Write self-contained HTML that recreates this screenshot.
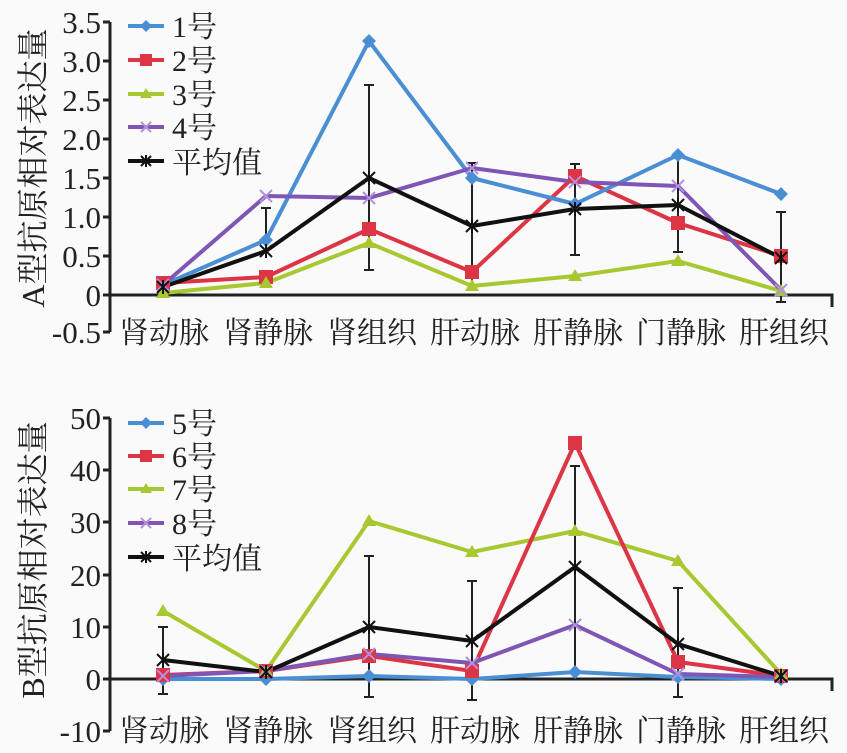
<!DOCTYPE html><html><head><meta charset="utf-8"><style>body{margin:0;background:#fafafa}svg{display:block}text{font-family:"Liberation Serif","Noto Serif CJK SC",serif;fill:#222}</style></head><body>
<svg width="847" height="753" viewBox="0 0 847 753">
<rect width="847" height="753" fill="#fafafa"/>
<g stroke="#222" stroke-width="3" fill="none">
<path d="M110 22V332M103 22H110M103 61H110M103 100H110M103 139H110M103 178H110M103 217H110M103 256H110M103 295H110M103 332H110M110 295H832V307"/>
<path d="M110 418V731M103 418H110M103 470H110M103 522H110M103 575H110M103 627H110M103 679H110M103 731H110M110 679H832V691"/>
</g>
<g font-size="31" text-anchor="end">
<text x="101" y="33">3.5</text><text x="101" y="72">3.0</text><text x="101" y="111">2.5</text><text x="101" y="150">2.0</text><text x="101" y="189">1.5</text><text x="101" y="228">1.0</text><text x="101" y="267">0.5</text><text x="101" y="306">0</text><text x="101" y="343">-0.5</text>
<text x="101" y="429">50</text><text x="101" y="481">40</text><text x="101" y="533">30</text><text x="101" y="586">20</text><text x="101" y="638">10</text><text x="101" y="690">0</text><text x="101" y="742">-10</text>
</g>
<g font-size="30" text-anchor="middle">
<text x="164" y="343">肾动脉</text><text x="268" y="343">肾静脉</text><text x="372" y="343">肾组织</text><text x="475" y="343">肝动脉</text><text x="578" y="343">肝静脉</text><text x="681" y="343">门静脉</text><text x="784" y="343">肝组织</text>
<text x="164" y="741">肾动脉</text><text x="268" y="741">肾静脉</text><text x="372" y="741">肾组织</text><text x="475" y="741">肝动脉</text><text x="578" y="741">肝静脉</text><text x="681" y="741">门静脉</text><text x="784" y="741">肝组织</text>
</g>
<text font-size="32" text-anchor="middle" transform="translate(44 168) rotate(-90)">A型抗原相对表达量</text>
<text font-size="32" text-anchor="middle" transform="translate(44 560) rotate(-90)">B型抗原相对表达量</text>
<g fill="none" stroke-width="4" stroke-linejoin="round">
<polyline stroke="#a8c832" points="163,293 266,283 369,243 472,286 575,276 678,261 781,291"/>
<polyline stroke="#dc3545" points="163,283 266,277 369,229 472,272 575,176 678,223 781,256"/>
<polyline stroke="#4a8fd4" points="163,285 266,240 369,41 472,178 575,204 678,155 781,194"/>
<polyline stroke="#7f55b5" points="163,285 266,196 369,198 472,168 575,182 678,186 781,290"/>
<polyline stroke="#111" points="163,287 266,251 369,178 472,226 575,209 678,205 781,258"/>
</g>
<g stroke="#222" stroke-width="2"><path d="M266 208V251M261 208H271M369 85V270M364 85H374M364 270H374M472 163V288M467 163H477M575 164V255M570 164H580M570 255H580M678 155V252M673 252H683M781 212V302M776 212H786M776 302H786"/></g>
<g fill="#4a8fd4"><path d="M163 278l7 7-7 7-7-7z M266 233l7 7-7 7-7-7z M369 34l7 7-7 7-7-7z M472 171l7 7-7 7-7-7z M575 197l7 7-7 7-7-7z M678 148l7 7-7 7-7-7z M781 187l7 7-7 7-7-7z"/></g>
<g fill="#dc3545"><rect x="156" y="276" width="14" height="14"/><rect x="259" y="270" width="14" height="14"/><rect x="362" y="222" width="14" height="14"/><rect x="465" y="265" width="14" height="14"/><rect x="568" y="169" width="14" height="14"/><rect x="671" y="216" width="14" height="14"/><rect x="774" y="249" width="14" height="14"/></g>
<g fill="#a8c832"><path d="M163 286l7 12h-14z M266 276l7 12h-14z M369 236l7 12h-14z M472 279l7 12h-14z M575 269l7 12h-14z M678 254l7 12h-14z M781 284l7 12h-14z"/></g>
<g stroke="#b58fe0" stroke-width="2"><path d="M157 279l12 12m0-12l-12 12 M260 190l12 12m0-12l-12 12 M363 192l12 12m0-12l-12 12 M466 162l12 12m0-12l-12 12 M569 176l12 12m0-12l-12 12 M672 180l12 12m0-12l-12 12 M775 284l12 12m0-12l-12 12"/></g>
<g stroke="#111" stroke-width="2"><path d="M157 281l12 12m0-12l-12 12M163 280v14 M260 245l12 12m0-12l-12 12M266 244v14 M363 172l12 12m0-12l-12 12M369 171v14 M466 220l12 12m0-12l-12 12M472 219v14 M569 203l12 12m0-12l-12 12M575 202v14 M672 199l12 12m0-12l-12 12M678 198v14 M775 252l12 12m0-12l-12 12M781 251v14"/></g>
<g stroke-width="4"><line x1="128" y1="26" x2="164" y2="26" stroke="#4a8fd4"/><line x1="128" y1="60" x2="164" y2="60" stroke="#dc3545"/><line x1="128" y1="94" x2="164" y2="94" stroke="#a8c832"/><line x1="128" y1="127" x2="164" y2="127" stroke="#7f55b5"/><line x1="128" y1="161" x2="164" y2="161" stroke="#111"/></g>
<path d="M146 20l6 6-6 6-6-6z" fill="#4a8fd4"/><rect x="140" y="54" width="12" height="12" fill="#dc3545"/><path d="M146 88l6 10h-12z" fill="#a8c832"/>
<path d="M141 122l10 10m0-10l-10 10" stroke="#b58fe0" stroke-width="2"/><path d="M141 156l10 10m0-10l-10 10M146 155v12" stroke="#111" stroke-width="2"/>
<g font-size="30"><text x="172" y="37">1号</text><text x="172" y="71">2号</text><text x="172" y="105">3号</text><text x="172" y="138">4号</text><text x="172" y="173">平均值</text></g>
<g fill="none" stroke-width="4" stroke-linejoin="round">
<polyline stroke="#4a8fd4" points="163,679 266,679 369,676 472,679 575,672 678,677 781,679"/>
<polyline stroke="#a8c832" points="163,611 266,671 369,521 472,552 575,531 678,561 781,674"/>
<polyline stroke="#dc3545" points="163,675 266,671 369,656 472,671 575,443 678,662 781,676"/>
<polyline stroke="#7f55b5" points="163,676 266,671 369,654 472,663 575,625 678,674 781,677"/>
<polyline stroke="#111" points="163,660 266,672 369,627 472,641 575,567 678,644 781,676"/>
</g>
<g stroke="#222" stroke-width="2"><path d="M163 627V694M158 627H168M158 694H168M369 556V697M364 556H374M364 697H374M472 581V700M467 581H477M467 700H477M575 466V668M570 466H580M678 588V697M673 588H683M673 697H683"/></g>
<g fill="#4a8fd4"><path d="M163 672l7 7-7 7-7-7z M266 672l7 7-7 7-7-7z M369 669l7 7-7 7-7-7z M472 672l7 7-7 7-7-7z M575 665l7 7-7 7-7-7z M678 670l7 7-7 7-7-7z M781 672l7 7-7 7-7-7z"/></g>
<g fill="#dc3545"><rect x="156" y="668" width="14" height="14"/><rect x="259" y="664" width="14" height="14"/><rect x="362" y="649" width="14" height="14"/><rect x="465" y="664" width="14" height="14"/><rect x="568" y="436" width="14" height="14"/><rect x="671" y="655" width="14" height="14"/><rect x="774" y="669" width="14" height="14"/></g>
<g fill="#a8c832"><path d="M163 604l7 12h-14z M266 664l7 12h-14z M369 514l7 12h-14z M472 545l7 12h-14z M575 524l7 12h-14z M678 554l7 12h-14z M781 667l7 12h-14z"/></g>
<g stroke="#b58fe0" stroke-width="2"><path d="M157 670l12 12m0-12l-12 12 M260 665l12 12m0-12l-12 12 M363 648l12 12m0-12l-12 12 M466 657l12 12m0-12l-12 12 M569 619l12 12m0-12l-12 12 M672 668l12 12m0-12l-12 12 M775 671l12 12m0-12l-12 12"/></g>
<g stroke="#111" stroke-width="2"><path d="M157 654l12 12m0-12l-12 12M163 653v14 M260 666l12 12m0-12l-12 12M266 665v14 M363 621l12 12m0-12l-12 12M369 620v14 M466 635l12 12m0-12l-12 12M472 634v14 M569 561l12 12m0-12l-12 12M575 560v14 M672 638l12 12m0-12l-12 12M678 637v14 M775 670l12 12m0-12l-12 12M781 669v14"/></g>
<g stroke-width="4"><line x1="128" y1="423" x2="164" y2="423" stroke="#4a8fd4"/><line x1="128" y1="456" x2="164" y2="456" stroke="#dc3545"/><line x1="128" y1="489" x2="164" y2="489" stroke="#a8c832"/><line x1="128" y1="523" x2="164" y2="523" stroke="#7f55b5"/><line x1="128" y1="557" x2="164" y2="557" stroke="#111"/></g>
<path d="M146 417l6 6-6 6-6-6z" fill="#4a8fd4"/><rect x="140" y="450" width="12" height="12" fill="#dc3545"/><path d="M146 483l6 10h-12z" fill="#a8c832"/>
<path d="M141 518l10 10m0-10l-10 10" stroke="#b58fe0" stroke-width="2"/><path d="M141 552l10 10m0-10l-10 10M146 551v12" stroke="#111" stroke-width="2"/>
<g font-size="30"><text x="172" y="434">5号</text><text x="172" y="467">6号</text><text x="172" y="500">7号</text><text x="172" y="534">8号</text><text x="172" y="569">平均值</text></g>
</svg></body></html>
